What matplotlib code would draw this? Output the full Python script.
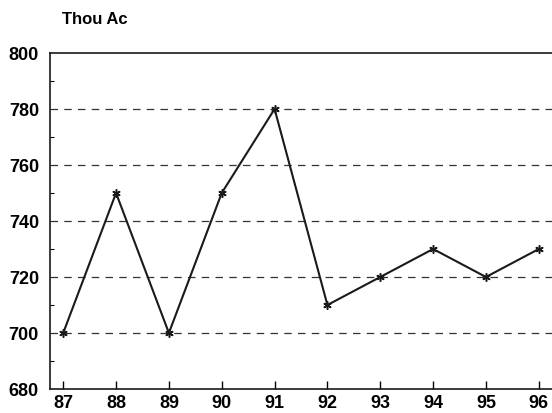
import matplotlib
matplotlib.use("Agg")
import matplotlib.pyplot as plt
from matplotlib.ticker import MultipleLocator

plt.rcParams['font.family'] = ['Liberation Sans', 'DejaVu Sans']

# Data
years = [87, 88, 89, 90, 91, 92, 93, 94, 95, 96]
acres = [700, 750, 700, 750, 780, 710, 720, 730, 720, 730]
year_labels = [str(y) for y in years]

fig = plt.figure(figsize=(5.52, 4.13), dpi=100)
ax = fig.add_axes([50 / 552, 1 - 389 / 413, 1 - 50 / 552, (389 - 53) / 413])

ax.plot(years, acres, color='#1a1a1a', linewidth=1.5,
        marker=(6, 2, 0), markersize=6, markeredgewidth=1.1, zorder=3)

ax.set_ylim(680, 800)
ax.set_xlim(86.75, 96.25)
ax.set_xticks(years)
ax.set_xticklabels(year_labels)
ax.set_yticks([680, 700, 720, 740, 760, 780, 800])
ax.yaxis.set_minor_locator(MultipleLocator(10))

for v in [700, 720, 740, 760, 780]:
    ax.axhline(v, color='#333333', linestyle=(0, (6, 5)), linewidth=0.9, zorder=1)

ax.spines['right'].set_visible(False)
for s in ['left', 'bottom', 'top']:
    ax.spines[s].set_linewidth(1.2)
    ax.spines[s].set_color('#1a1a1a')

ax.tick_params(axis='x', direction='in', length=6, width=1, pad=4,
               labelsize=13)
ax.tick_params(axis='y', which='major', direction='in', length=0, pad=8,
               labelsize=13)
ax.tick_params(axis='y', which='minor', direction='in', length=3, width=0.8)
for lab in ax.get_xticklabels() + ax.get_yticklabels():
    lab.set_fontweight('bold')

fig.text(62 / 552, 1 - 20 / 413, 'Thou Ac', fontsize=12, fontweight='bold',
         ha='left', va='center')

fig.savefig('out.png', dpi=100)
